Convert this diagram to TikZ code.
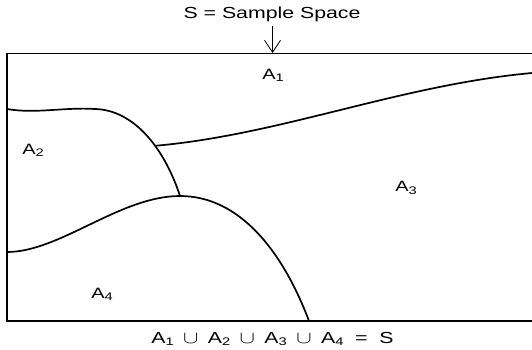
\documentclass[tikz,border=0pt]{standalone}
\usepackage{fontspec}
\setmainfont{Liberation Sans}
\usetikzlibrary{arrows.meta}
\newcommand{\sbs}[1]{\raisebox{-0.28ex}{\fontsize{11}{12}\selectfont #1}}
\newcommand{\wide}[1]{\scalebox{1.33}[1]{#1}}
\tikzset{
  region/.style={font=\fontsize{15}{17}\selectfont, inner sep=0pt},
  caption/.style={font=\fontsize{16}{18}\selectfont, inner sep=0pt},
  bound/.style={line width=1.7pt, line join=round},
}
\begin{document}
\begin{tikzpicture}[x=1pt,y=-1pt]
\useasboundingbox (0,0) rectangle (532,350);
% sample space rectangle (right side open at image border)
\draw[line width=1.4pt] (532,53.5) -- (7,53.5);
\draw[line width=2.4pt] (7,52.8) -- (7,321.8);
\draw[line width=1.8pt] (6,321) -- (532,321);
% title and arrow
\node[caption] (title) at (272,14) {\wide{S = Sample Space}};
\coordinate (tail) at (272.5,26);
\coordinate (tip) at (272.5,53);
\draw[line width=0.8pt, -{Straight Barb[length=12pt,width=16pt]}] (tail) -- (tip);
% corners of boundaries
\coordinate (l2) at (7,109);
\coordinate (m2) at (95,109);
\coordinate (j2) at (180,196);
\coordinate (l4) at (7,252);
\coordinate (b4) at (309,321);
\coordinate (r1) at (532,73);
% A1 / A2 boundary down to A4 top
\draw[bound] (l2) .. controls (35,114) and (65,107) .. (m2)
  .. controls (135,110) and (165,150) .. coordinate[pos=0.6] (j1) (j2);
% A1 / A3 boundary
\draw[bound] (j1) .. controls (280,135) and (400,85) .. (r1);
% A4 top boundary
\draw[bound] (l4) .. controls (60,252) and (120,196) .. (j2)
  .. controls (240,196) and (283,252) .. (b4);
% labels
\node[region] (a1) at (273,75) {\wide{A\sbs{1}}};
\node[region] (a2) at (33,150) {\wide{A\sbs{2}}};
\node[region] (a3) at (406,188) {\wide{A\sbs{3}}};
\node[region] (a4) at (102,294) {\wide{A\sbs{4}}};
\node[region, font=\fontsize{16}{18}\selectfont] (eq) at (272.5,339) {\wide{A\sbs{1}\ \,$\cup$\ \,A\sbs{2}\ \,$\cup$\ \,A\sbs{3}\ \,$\cup$\ \,A\sbs{4}\ \ =\ \ S}};
\end{tikzpicture}
\end{document}
